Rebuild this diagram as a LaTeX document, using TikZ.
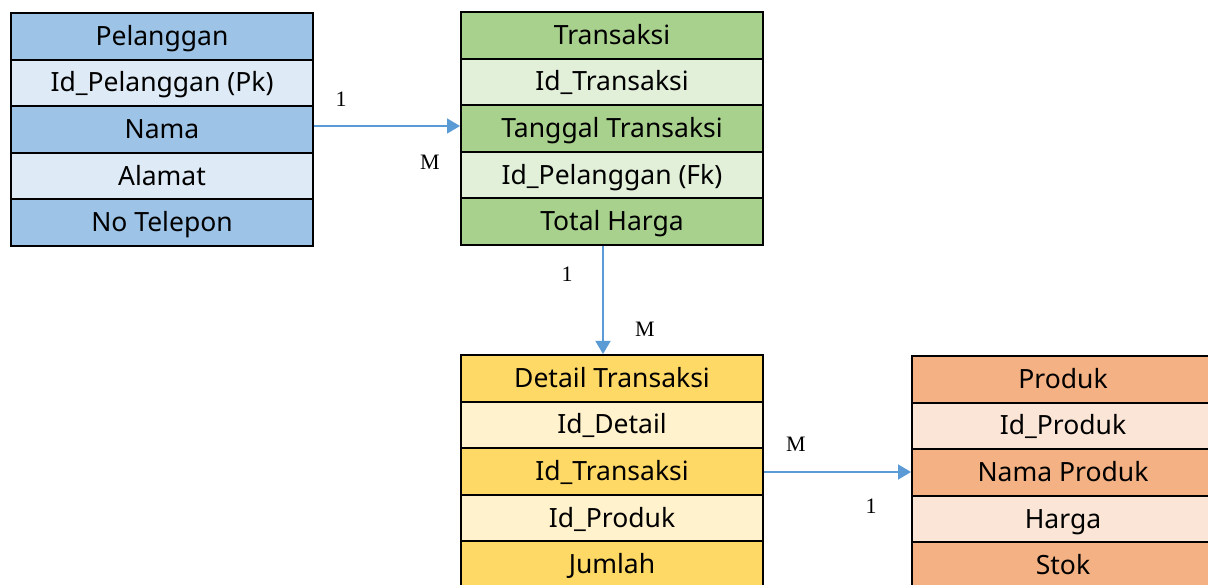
\documentclass[tikz,border=0pt]{standalone}
\usepackage{fontspec}
\setmainfont{Noto Sans}
\newfontfamily\lblfont{Liberation Serif}
\usetikzlibrary{arrows.meta}
\definecolor{pdark}{HTML}{9DC3E6}
\definecolor{plight}{HTML}{DEEBF7}
\definecolor{tdark}{HTML}{A9D18E}
\definecolor{tlight}{HTML}{E2F0D9}
\definecolor{ddark}{HTML}{FFD966}
\definecolor{dlight}{HTML}{FFF2CC}
\definecolor{rdark}{HTML}{F4B183}
\definecolor{rlight}{HTML}{FBE5D6}
\definecolor{linkblue}{HTML}{5B9BD5}
\tikzset{
  cell/.style={draw=black, line width=2pt, minimum width=302pt, minimum height=46.6pt,
    inner sep=0pt, text height=24pt, text depth=6pt,
    font=\fontsize{26.5}{30}\selectfont, text=black},
  card/.style={font=\lblfont\fontsize{22}{26}\selectfont, text=black, inner sep=0pt},
  link/.style={draw=linkblue, line width=1.5pt, -{Triangle[length=13pt,width=15pt]}}
}
\begin{document}
\begin{tikzpicture}[x=1pt,y=-1pt]
\clip (0,0) rectangle (1208,585);
\fill[white] (0,0) rectangle (1208,585);
% Pelanggan
\node[cell, fill=pdark]  (p0) at (162,36.3)  {Pelanggan};
\node[cell, fill=plight] (p1) at (162,82.9)  {Id\_Pelanggan (Pk)};
\node[cell, fill=pdark]  (p2) at (162,129.5) {Nama};
\node[cell, fill=plight] (p3) at (162,176.1) {Alamat};
\node[cell, fill=pdark]  (p4) at (162,222.7) {No Telepon};
% Transaksi
\node[cell, fill=tdark]  (t0) at (612,35.3)  {Transaksi};
\node[cell, fill=tlight] (t1) at (612,81.9)  {Id\_Transaksi};
\node[cell, fill=tdark]  (t2) at (612,128.5) {Tanggal Transaksi};
\node[cell, fill=tlight] (t3) at (612,175.1) {Id\_Pelanggan (Fk)};
\node[cell, fill=tdark]  (t4) at (612,221.7) {Total Harga};
% Detail Transaksi
\node[cell, fill=ddark]  (d0) at (612,378.3) {Detail Transaksi};
\node[cell, fill=dlight] (d1) at (612,424.9) {Id\_Detail};
\node[cell, fill=ddark]  (d2) at (612,471.5) {Id\_Transaksi};
\node[cell, fill=dlight] (d3) at (612,518.1) {Id\_Produk};
\node[cell, fill=ddark]  (d4) at (612,564.7) {Jumlah};
% Produk
\node[cell, fill=rdark]  (r0) at (1063,379.3) {Produk};
\node[cell, fill=rlight] (r1) at (1063,425.9) {Id\_Produk};
\node[cell, fill=rdark]  (r2) at (1063,472.5) {Nama Produk};
\node[cell, fill=rlight] (r3) at (1063,519.1) {Harga};
\node[cell, fill=rdark]  (r4) at (1063,565.7) {Stok};
% connectors
\draw[link] ([yshift=3.5pt]p2.east) -- ([yshift=2.5pt]t2.west);
\draw[link] ([xshift=-9pt]t4.south) -- ([xshift=-9pt]d0.north);
\draw[link] ([yshift=-0.5pt]d2.east) -- ([yshift=0.5pt]r2.west);
% cardinalities
\node[card] (c1) at (341,99)  {1};
\node[card] (c2) at (430,162) {M};
\node[card] (c3) at (567,274) {1};
\node[card] (c4) at (645,329) {M};
\node[card] (c5) at (796,444) {M};
\node[card] (c6) at (871,506) {1};
\end{tikzpicture}
\end{document}
